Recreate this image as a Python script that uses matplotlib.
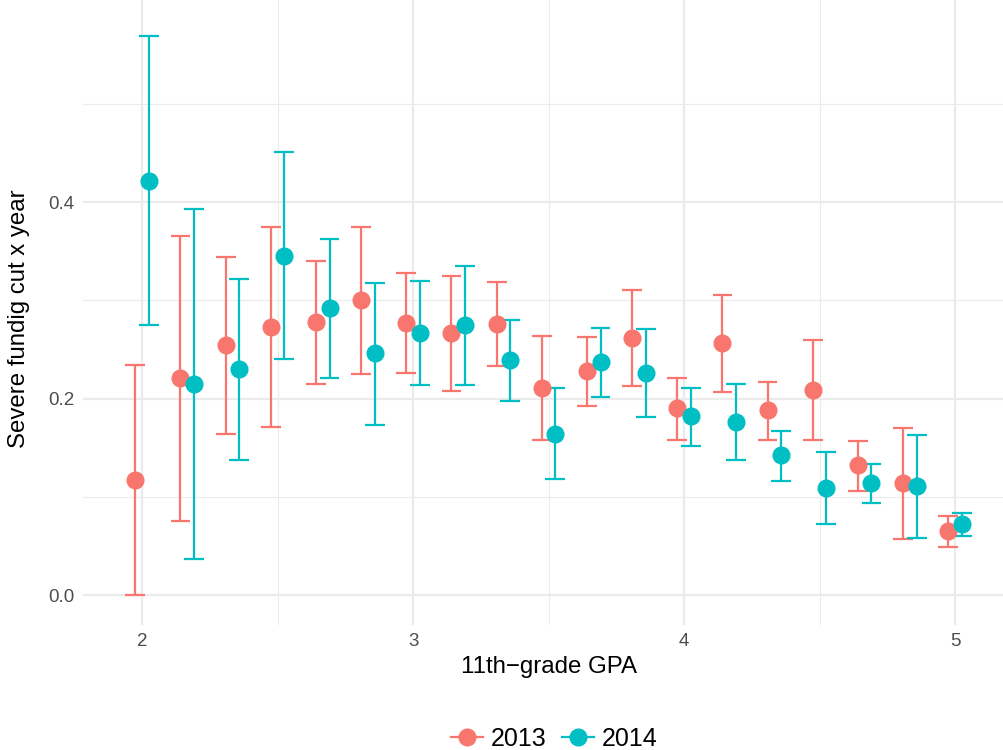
import numpy as np
import matplotlib.pyplot as plt
from matplotlib.lines import Line2D

# GPA bins (2 to 5 in steps of 1/6)
gpa = np.arange(19) / 6 + 2

est_2013 = [0.117, 0.221, 0.254, 0.273, 0.278, 0.300, 0.277, 0.267, 0.276, 0.211,
            0.228, 0.262, 0.190, 0.256, 0.188, 0.209, 0.132, 0.114, 0.065]
lo_2013 = [0.000, 0.075, 0.164, 0.171, 0.215, 0.225, 0.226, 0.208, 0.233, 0.158,
           0.192, 0.213, 0.158, 0.207, 0.158, 0.158, 0.106, 0.057, 0.049]
hi_2013 = [0.234, 0.365, 0.344, 0.375, 0.340, 0.375, 0.328, 0.325, 0.319, 0.264,
           0.263, 0.310, 0.221, 0.305, 0.217, 0.260, 0.157, 0.170, 0.080]

est_2014 = [0.421, 0.215, 0.230, 0.345, 0.292, 0.246, 0.267, 0.275, 0.239, 0.164,
            0.237, 0.226, 0.182, 0.176, 0.142, 0.109, 0.114, 0.111, 0.072]
lo_2014 = [0.275, 0.037, 0.137, 0.240, 0.221, 0.173, 0.214, 0.214, 0.197, 0.118,
           0.202, 0.181, 0.152, 0.137, 0.116, 0.072, 0.094, 0.058, 0.060]
hi_2014 = [0.569, 0.393, 0.322, 0.451, 0.362, 0.318, 0.320, 0.335, 0.280, 0.211,
           0.272, 0.271, 0.211, 0.215, 0.167, 0.146, 0.133, 0.163, 0.083]

years = ['2013', '2014']
colors = ['#F8766D', '#00BFC4']

plt.rcParams['font.family'] = ['Liberation Sans', 'DejaVu Sans']

fig = plt.figure(figsize=(10.04, 7.5), dpi=100)
ax = fig.add_axes([0.0827, 0.1667, 0.9163, 0.8333])

dodge = 0.025
cap = 0.0365
series = [(est_2013, lo_2013, hi_2013), (est_2014, lo_2014, hi_2014)]
for i, (est, lo, hi) in enumerate(series):
    x = gpa + (i * 2 - 1) * dodge
    ax.vlines(x, lo, hi, color=colors[i], lw=1.6, zorder=3)
    ax.hlines(lo, x - cap, x + cap, color=colors[i], lw=1.6, zorder=3)
    ax.hlines(hi, x - cap, x + cap, color=colors[i], lw=1.6, zorder=3)
    ax.plot(x, est, 'o', color=colors[i], ms=12, zorder=4)

ax.set_xlim(1.782, 5.177)
ax.set_ylim(-0.0305, 0.6056)
ax.set_xticks([2, 3, 4, 5])
ax.set_yticks([0.0, 0.2, 0.4])
ax.set_yticklabels(['0.0', '0.2', '0.4'])
ax.set_xticks([2.5, 3.5, 4.5], minor=True)
ax.set_yticks([0.1, 0.3, 0.5], minor=True)
ax.grid(which='major', color='#EBEBEB', lw=1.6)
ax.grid(which='minor', color='#EBEBEB', lw=0.8)
ax.set_axisbelow(True)
for s in ax.spines.values():
    s.set_visible(False)
ax.tick_params(which='both', length=0, labelsize=13.5, labelcolor='#4D4D4D', pad=6)

ax.set_xlabel('11th\u2212grade GPA', fontsize=17.3)
ax.set_ylabel('Severe fundig cut x year', fontsize=17.3)
ax.xaxis.set_label_coords(0.5065, -0.05)
ax.yaxis.set_label_coords(-0.058, 0.49)

handles = [Line2D([], [], color=c, marker='o', ms=12, lw=1.6) for c in colors]
fig.legend(handles, years, loc='center', bbox_to_anchor=(0.552, 0.015), ncol=2,
           frameon=False, fontsize=18, handlelength=1.3, handletextpad=0.3,
           columnspacing=0.6)

fig.savefig('out.png', dpi=100)
